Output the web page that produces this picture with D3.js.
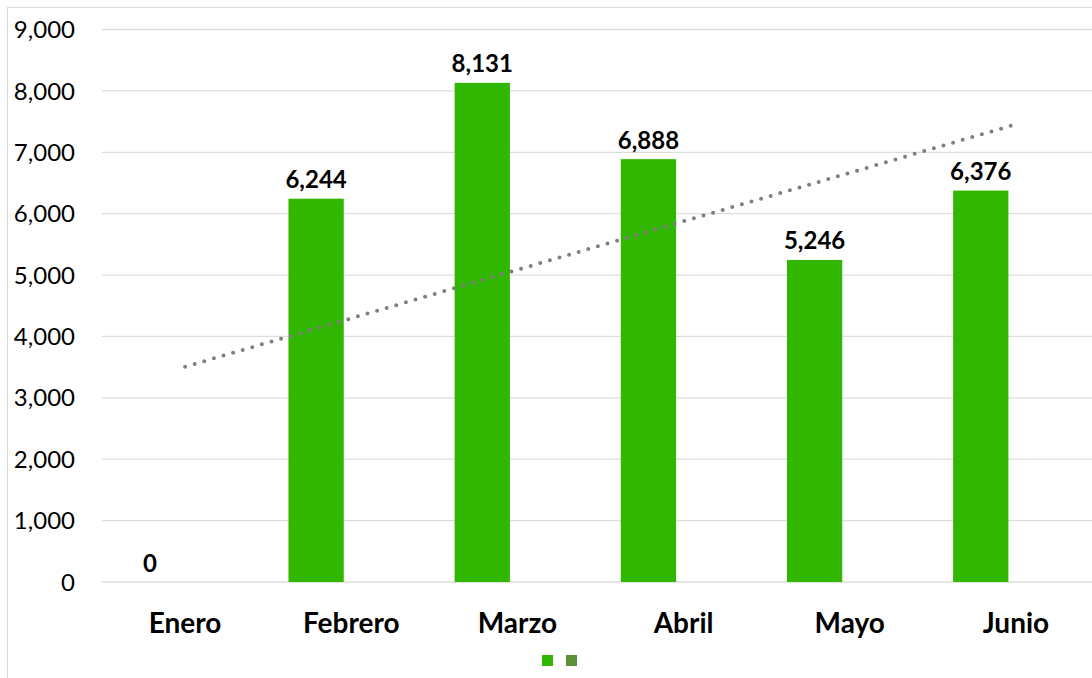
<!DOCTYPE html>
<html>
<head>
<meta charset="utf-8">
<script src="https://cdn.jsdelivr.net/npm/d3@7"></script>
<style>
  body { margin: 0; background: #fff; }
  svg { display: block; font-family: Lato, "Open Sans", sans-serif; }
</style>
</head>
<body>
<div id="chart"></div>
<script>
// data
var meses = ["Enero", "Febrero", "Marzo", "Abril", "Mayo", "Junio"];
var valores = [0, 6244, 8131, 6888, 5246, 6376];
var series = ["serie1", "serie2"];
var serieColores = ["#31B700", "#5B8F3A"];
var yTicks = [0, 1000, 2000, 3000, 4000, 5000, 6000, 7000, 8000, 9000];

var w = 1092, h = 678;
var margin = { top: 29.5, left: 102, bottom: 96 };
var plotW = 997;

var svg = d3.select("#chart")
	.append("svg")
	.attr("width", w)
	.attr("height", h);

// chart frame
svg.append("rect")
	.attr("x", 7.5).attr("y", 7.5)
	.attr("width", w + 20).attr("height", h + 20)
	.attr("fill", "none")
	.attr("stroke", "#D9D9D9")
	.attr("stroke-width", 1);

var x = d3.scaleBand()
	.domain(meses)
	.range([margin.left, margin.left + plotW])
	.padding(0);

var x1 = d3.scaleBand()
	.domain(series)
	.range([0, x.bandwidth()])
	.paddingInner(0.2134)
	.paddingOuter(0.2887);

var y = d3.scaleLinear()
	.domain([0, 9000])
	.range([h - margin.bottom, margin.top]);

var fmt = d3.format(",");

// gridlines
svg.append("g")
	.selectAll("line")
	.data(yTicks)
	.enter()
	.append("line")
	.attr("x1", margin.left)
	.attr("x2", w)
	.attr("y1", function(d){ return y(d); })
	.attr("y2", function(d){ return y(d); })
	.attr("stroke", "#DDDDDD")
	.attr("stroke-width", 1.3);

// y labels
svg.append("g")
	.selectAll("text")
	.data(yTicks)
	.enter()
	.append("text")
	.attr("x", 75)
	.attr("y", function(d){ return y(d); })
	.attr("dy", "0.36em")
	.attr("text-anchor", "end")
	.attr("font-size", 24)
	.attr("fill", "#000")
	.text(function(d){ return fmt(d); });

// bars
svg.append("g")
	.selectAll("rect")
	.data(valores)
	.enter()
	.append("rect")
	.attr("x", function(d, i){ return x(meses[i]) + x1("serie1"); })
	.attr("y", function(d){ return y(d); })
	.attr("width", x1.bandwidth())
	.attr("height", function(d){ return y(0) - y(d); })
	.attr("fill", serieColores[0]);

// value labels
svg.append("g")
	.selectAll("text")
	.data(valores)
	.enter()
	.append("text")
	.attr("x", function(d, i){ return x(meses[i]) + x1("serie1") + x1.bandwidth() / 2; })
	.attr("y", function(d){ return y(d) - 10.5; })
	.attr("text-anchor", "middle")
	.attr("font-size", 24)
	.attr("font-weight", "bold")
	.attr("fill", "#000")
	.text(function(d){ return fmt(d); });

// category labels
svg.append("g")
	.selectAll("text")
	.data(meses)
	.enter()
	.append("text")
	.attr("x", function(d){ return x(d) + x.bandwidth() / 2; })
	.attr("y", 633)
	.attr("text-anchor", "middle")
	.attr("font-size", 28)
	.attr("font-weight", "bold")
	.attr("fill", "#000")
	.text(function(d){ return d; });

// linear trendline (least squares over the month index)
var n = valores.length;
var mx = d3.mean(valores, function(d, i){ return i + 1; });
var my = d3.mean(valores);
var sxy = d3.sum(valores, function(d, i){ return (i + 1 - mx) * (d - my); });
var sxx = d3.sum(valores, function(d, i){ return (i + 1 - mx) * (i + 1 - mx); });
var slope = sxy / sxx, icpt = my - slope * mx;
var trend = [0, n - 1].map(function(i){
	return [x(meses[i]) + x.bandwidth() / 2, y(icpt + slope * (i + 1))];
});

svg.append("path")
	.attr("d", d3.line()(trend))
	.attr("fill", "none")
	.attr("stroke", "#7F7F7F")
	.attr("stroke-width", 4)
	.attr("stroke-linecap", "round")
	.attr("stroke-dasharray", "0 10");

// legend (two unnamed entries)
svg.append("g")
	.selectAll("rect")
	.data(series)
	.enter()
	.append("rect")
	.attr("x", function(d, i){ return 542 + i * 24; })
	.attr("y", 655)
	.attr("width", 11)
	.attr("height", 11)
	.attr("fill", function(d, i){ return serieColores[i]; });
</script>
</body>
</html>
